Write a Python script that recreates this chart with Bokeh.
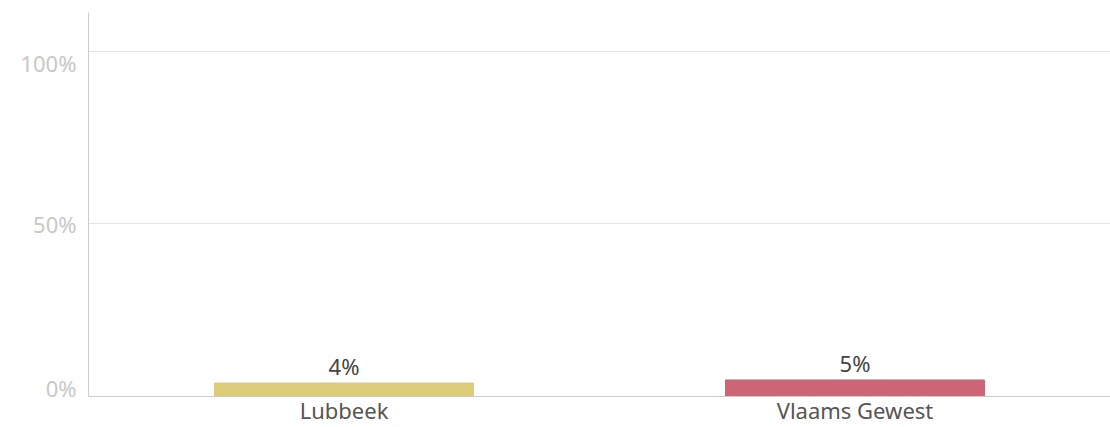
from bokeh.plotting import figure
from bokeh.models import ColumnDataSource, FixedTicker, Range1d, LabelSet
from bokeh.core.properties import value
from bokeh.embed import file_html
from bokeh.resources import INLINE

categories = ["Lubbeek", "Vlaams Gewest"]
values = [3.9, 4.8]
colors = ["#DDCC77", "#CC6677"]
value_labels = [f"{round(v)}%" for v in values]
grid_ticks = [0, 50, 100]
tick_text = ["0%", "50%", "100%"]
# tick labels sit inside the band: bottom label nudged up, top label nudged down
tick_label_pos = [2.6, 50, 96.8]

FONT = "Noto Sans"

src = ColumnDataSource(dict(cat=categories, val=values, color=colors, lab=value_labels))

p = figure(x_range=categories, y_range=Range1d(0, 111.3), width=1110, height=427,
           output_backend="svg", toolbar_location=None,
           min_border_left=88, min_border_right=0, min_border_top=12, min_border_bottom=31)
p.outline_line_color = None
p.background_fill_color = "white"
p.border_fill_color = "white"

p.vbar(x="cat", top="val", width=0.507, color="color", source=src)

labels = LabelSet(x="cat", y="val", text="lab", source=src, text_align="center",
                  text_baseline="bottom", y_offset=2, text_font=value(FONT),
                  text_font_size="22px", text_color="#444444")
p.add_layout(labels)

p.yaxis.ticker = FixedTicker(ticks=tick_label_pos)
p.yaxis.major_label_overrides = dict(zip(tick_label_pos, tick_text))
p.yaxis.major_tick_line_color = None
p.yaxis.minor_tick_line_color = None
p.yaxis.major_tick_out = 0
p.yaxis.minor_tick_out = 0
p.yaxis.axis_line_color = "#cccccc"
p.yaxis.major_label_text_color = "#c8c8c8"
p.yaxis.major_label_text_font = FONT
p.yaxis.major_label_text_font_size = "22px"
p.yaxis.major_label_standoff = 12

p.xaxis.major_tick_line_color = None
p.xaxis.major_tick_out = 0
p.xaxis.minor_tick_out = 0
p.xaxis.axis_line_color = "#cccccc"
p.xaxis.major_label_text_color = "#555555"
p.xaxis.major_label_text_font = FONT
p.xaxis.major_label_text_font_size = "22px"
p.xaxis.major_label_standoff = -2

p.xgrid.grid_line_color = None
p.ygrid.ticker = FixedTicker(ticks=grid_ticks)
p.ygrid.grid_line_color = "#e3e3e3"

open("out.html", "w").write(file_html(p, INLINE))
